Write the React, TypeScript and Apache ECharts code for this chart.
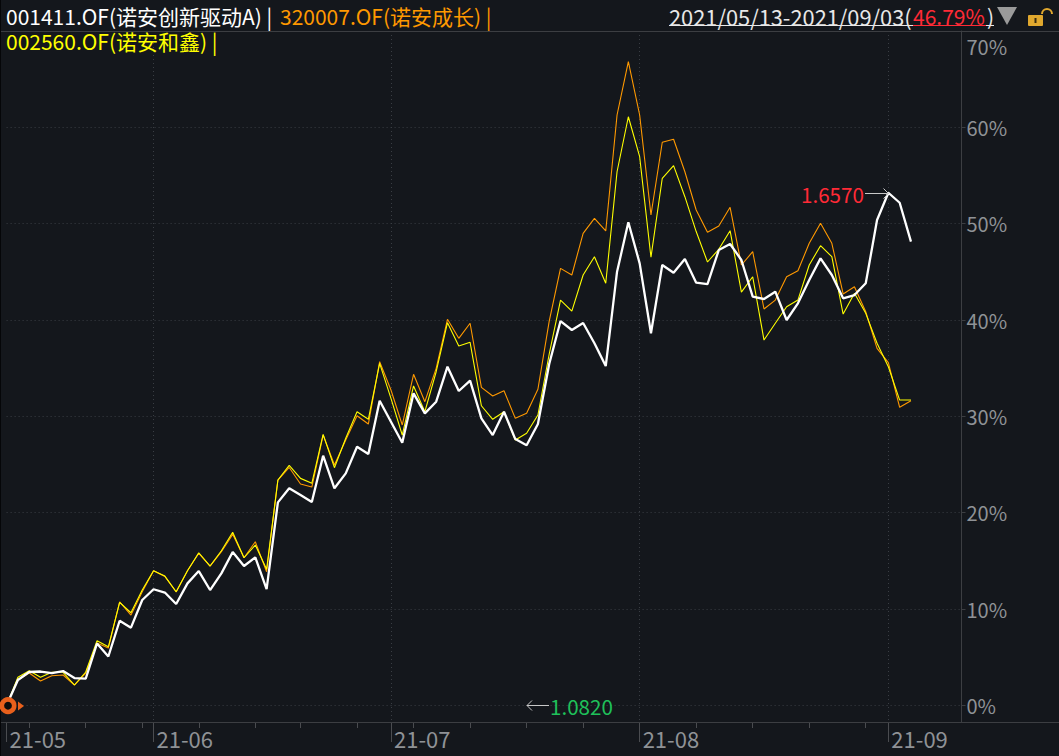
import React, { useEffect, useRef } from "react";
import * as echarts from "echarts";

const fundNames = ["001411.OF(诺安创新驱动A)", "320007.OF(诺安成长)", "002560.OF(诺安和鑫)"];

const whiteValues = [0,2.63,3.46,3.51,3.35,3.56,2.83,2.78,6.42,5.07,8.78,8.06,10.93,12.05,11.71,10.52,12.66,13.94,11.97,13.70,15.91,14.46,15.36,12.07,21.07,22.53,21.83,21.10,25.91,22.53,24.08,26.85,26.09,31.62,29.44,27.26,32.39,30.31,31.52,35.15,32.63,33.70,29.79,28.06,30.48,27.64,26.99,29.20,35.43,39.89,38.96,39.69,37.58,35.22,45.01,50.14,45.88,38.62,45.71,44.91,46.33,43.87,43.73,47.26,47.89,46.23,42.42,42.18,42.94,40.0,41.73,44.15,46.40,44.67,42.25,42.59,43.81,50.38,53.21,52.17,48.13];

const orangeValues = [0,2.63,3.35,2.52,3.07,3.15,2.11,3.35,6.47,5.95,10.75,9.37,11.79,13.97,13.37,11.76,13.97,15.78,14.46,15.95,17.75,15.32,16.98,13.87,23.39,24.69,22.97,22.66,28.06,24.95,27.54,30.06,29.20,35.67,32.73,29.10,34.36,31.52,34.98,40.07,38.10,39.66,33.01,32.11,32.66,29.79,30.31,32.81,39.89,45.36,44.67,49.00,50.55,49.24,61.28,66.81,61.28,50.90,58.45,58.76,55.39,51.42,49.10,49.76,51.70,45.71,47.09,41.14,42.07,44.49,45.12,47.96,50.04,47.96,42.70,43.45,40.86,37.06,35.57,30.94,31.62];

const yellowValues = [0,2.91,3.59,2.91,3.43,3.43,2.11,3.46,6.71,6.08,10.69,9.61,11.97,13.97,13.42,11.79,13.97,15.84,14.46,16.05,17.96,15.32,16.64,14.12,23.39,24.91,23.56,23.05,28.13,24.67,27.72,30.48,29.69,35.50,31.87,28.06,33.15,30.48,34.63,39.72,37.30,37.68,31.10,29.69,30.48,27.54,28.24,30.14,36.47,42.07,40.93,44.67,46.57,43.81,55.39,61.10,56.95,46.51,54.71,56.02,52.80,49.18,46.02,47.34,49.27,42.90,44.49,37.92,39.66,41.38,42.07,45.71,47.71,46.57,40.62,42.77,40.69,37.58,35.15,31.69,31.69];

const monthTickIndex = [0, 13, 34, 56, 78];
const monthGridIndex = [13, 34, 56, 78];
const monthTickLabels = ["21-05", "21-06", "21-07", "21-08", "21-09"];
const weekTickIndex = [2, 7, 12, 17, 22, 26, 31, 36, 41, 46, 51, 61, 66, 71, 76];
const yTickValues = [0, 10, 20, 30, 40, 50, 60, 70];

const rangeText = "2021/05/13-2021/09/03(";
const rangeReturn = "46.79%";
const maxLabel = "1.6570";
const minLabel = "1.0820";

const BG = "#14171c";
const FONT = '"Noto Sans CJK SC", "Noto Sans", sans-serif';
const LINE = "#3c3e42";
const LABEL = "#8f9296";
const FS = 20;

const pairs = (vals: number[]) => vals.map((v, i) => [i, v]);

const txt = (text: string, x: number, y: number, fill: string, size = FS) => ({
  type: "text",
  z: 100,
  style: { text, x, y, fill, font: `${size}px ${FONT}`, textAlign: "left", textVerticalAlign: "middle" },
});
const seg = (x1: number, y1: number, x2: number, y2: number, stroke: string, lineWidth = 1) => ({
  type: "line",
  z: 100,
  silent: true,
  shape: { x1, y1, x2, y2 },
  style: { stroke, lineWidth },
});

export default function App() {
  const ref = useRef<HTMLDivElement>(null);
  useEffect(() => {
    document.body.style.margin = "0";
    document.body.style.background = BG;
    document.body.style.overflow = "hidden";
    const chart = echarts.init(ref.current!, undefined, { renderer: "svg" });
    const baseX = {
      type: "value" as const,
      min: 0,
      max: 84.47,
      axisLine: { show: false, onZero: false },
      position: "bottom" as const,
    };
    chart.setOption({
      animation: false,
      backgroundColor: BG,
      grid: { left: 6.6, top: 31, width: 954.9, height: 691, containLabel: false },
      xAxis: [
        {
          ...baseX,
          axisLabel: { show: false },
          axisTick: { show: true, inside: false, length: 6, customValues: weekTickIndex, lineStyle: { color: "#4a4c50" } },
          splitLine: { show: false },
        },
        {
          ...baseX,
          axisTick: { show: true, length: 20, customValues: monthTickIndex, lineStyle: { color: "#4a4c50" } },
          axisLabel: {
            show: true,
            customValues: monthTickIndex,
            align: "left",
            margin: 5,
            padding: [0, 0, 0, 3],
            color: LABEL,
            fontSize: 22,
            fontFamily: FONT,
            showMinLabel: true,
            showMaxLabel: true,
            hideOverlap: false,
            formatter: (v: number) => monthTickLabels[monthTickIndex.indexOf(v)] ?? "",
          },
          splitLine: { show: false },
        },
        {
          ...baseX,
          axisTick: { show: false, customValues: monthGridIndex },
          axisLabel: { show: false },
          splitLine: { show: true, lineStyle: { color: "#3a3e44", type: [1, 3], width: 1 } },
        },
      ],
      yAxis: {
        type: "value",
        position: "right",
        min: -1.73,
        max: 70,
        axisLine: { show: true, onZero: false, lineStyle: { color: LINE } },
        axisTick: { show: true, length: 4, customValues: yTickValues, lineStyle: { color: LINE } },
        axisLabel: {
          customValues: yTickValues,
          margin: 1,
          padding: [0, 0, 0, 4],
          color: LABEL,
          fontSize: FS,
          fontFamily: FONT,
          showMinLabel: true,
          showMaxLabel: true,
          formatter: (v: number) => (v === 70 ? "{top|70%}" : `${v}%`),
          rich: { top: { color: LABEL, fontSize: FS, fontFamily: FONT, padding: [30, 0, 0, 0] } },
        },
        splitLine: { show: true, lineStyle: { color: "#3a3e44", type: [1, 3], width: 1 } },
      },
      series: [
        { name: fundNames[0], type: "line", z: 5, data: pairs(whiteValues), symbol: "none", lineStyle: { color: "#ffffff", width: 2.3 } },
        { name: fundNames[1], type: "line", z: 3, data: pairs(orangeValues), symbol: "none", lineStyle: { color: "#ff9900", width: 1.1 } },
        { name: fundNames[2], type: "line", z: 4, data: pairs(yellowValues), symbol: "none", lineStyle: { color: "#ffff00", width: 1.1 } },
      ],
      graphic: [
        seg(0, 31.5, 1059, 31.5, LINE),
        seg(0, 722.5, 1059, 722.5, LINE),
        seg(0.5, 0, 0.5, 756, "#050608"),
        txt(`${fundNames[0]} |`, 6, 16, "#ffffff", 21),
        txt(`${fundNames[1]} |`, 280, 16, "#ff9900", 21),
        txt(`${fundNames[2]} |`, 6, 41, "#ffff00", 21),
        txt(rangeText, 669, 16, "#e8e8e8", 21.8),
        txt(rangeReturn, 913, 16, "#ff2a36", 21),
        txt(")", 987, 16, "#e8e8e8", 21),
        seg(669, 25.5, 913, 25.5, "#e8e8e8"),
        seg(913, 25.5, 986, 25.5, "#ff2a36"),
        seg(986, 25.5, 994, 25.5, "#e8e8e8"),
        { type: "polygon", z: 100, shape: { points: [[997, 7], [1017, 7], [1007, 25]] }, style: { fill: "#9a9a9a" } },
        { type: "rect", z: 100, shape: { x: 1028, y: 15, width: 15, height: 11, r: 1 }, style: { fill: "#e0a82e" } },
        { type: "rect", z: 101, shape: { x: 1034.5, y: 18, width: 2, height: 5 }, style: { fill: "#3a2c10" } },
        { type: "arc", z: 100, shape: { cx: 1047, cy: 14, r: 5, startAngle: Math.PI, endAngle: 0, clockwise: true }, style: { stroke: "#e0a82e", lineWidth: 2, fill: "none" } },
        txt(maxLabel, 801, 194, "#ff2a36", 20.6),
        seg(865, 193.5, 888.5, 193.5, "#c8c8c8"),
        seg(883.5, 188.5, 888.5, 193.5, "#c8c8c8"),
        seg(883.5, 198.5, 888.5, 193.5, "#c8c8c8"),
        txt(minLabel, 550, 706, "#1fc05a", 20.6),
        seg(527, 705.5, 549, 705.5, "#c8c8c8"),
        seg(532, 700.5, 527, 705.5, "#c8c8c8"),
        seg(532, 710.5, 527, 705.5, "#c8c8c8"),
        { type: "circle", z: 100, shape: { cx: 8, cy: 705.7, r: 6.2 }, style: { fill: "#0c0c0c", stroke: "#e8601c", lineWidth: 4.6 } },
        { type: "polygon", z: 100, shape: { points: [[18, 701.5], [24, 706], [18, 710.5]] }, style: { fill: "#e8601c" } },
      ],
    });
    return () => chart.dispose();
  }, []);
  return <div ref={ref} style={{ position: "absolute", left: 0, top: 0, width: 1059, height: 756 }} />;
}
